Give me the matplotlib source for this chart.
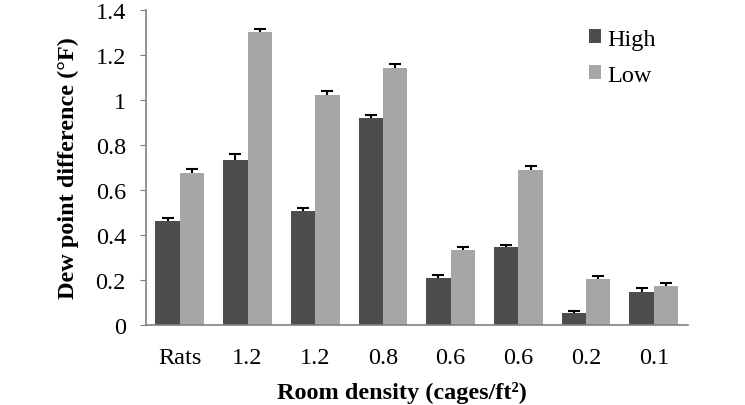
import matplotlib.pyplot as plt
import numpy as np

plt.rcParams['font.family'] = ['Liberation Serif', 'DejaVu Serif']

categories = ['Rats', '1.2', '1.2', '0.8', '0.6', '0.6', '0.2', '0.1']
high = [0.463, 0.735, 0.508, 0.922, 0.210, 0.345, 0.055, 0.148]
low = [0.677, 1.301, 1.021, 1.142, 0.333, 0.688, 0.204, 0.173]
high_err = [0.012, 0.024, 0.012, 0.010, 0.012, 0.012, 0.009, 0.016]
low_err = [0.015, 0.015, 0.020, 0.018, 0.014, 0.020, 0.014, 0.012]

fig = plt.figure(figsize=(7.45, 4.06), dpi=100)
ax = fig.add_axes([0.196, 0.197, 0.727, 0.776])

x = np.arange(len(categories))
w = 0.36
err_kw = dict(ecolor='black', elinewidth=1.5, capsize=4.5, capthick=1.5)
b1 = ax.bar(x - w / 2, high, w, color='#4d4d4d', label='High',
            yerr=[np.zeros(len(high)), high_err], error_kw=err_kw)
b2 = ax.bar(x + w / 2, low, w, color='#a6a6a6', label='Low',
            yerr=[np.zeros(len(low)), low_err], error_kw=err_kw)
# only the upper caps, like the original
for b in (b1, b2):
    b.errorbar.lines[1][0].set_visible(False)

ax.set_xlim(-0.5, 7.5)
ax.set_ylim(0, 1.4)
ax.set_yticks(np.arange(0, 1.41, 0.2))
ax.set_yticklabels(['0', '0.2', '0.4', '0.6', '0.8', '1', '1.2', '1.4'])
ax.set_xticks(x)
ax.set_xticklabels(categories)

for s in ['top', 'right']:
    ax.spines[s].set_visible(False)
ax.spines['left'].set_color('#808080')
ax.spines['bottom'].set_color('#808080')
ax.spines['left'].set_linewidth(1.2)
ax.spines['bottom'].set_linewidth(1.2)
ax.tick_params(axis='y', direction='out', length=4.5, color='#808080',
               labelsize=17.5, pad=10)
ax.tick_params(axis='x', length=0, labelsize=17.5, pad=16)

ax.set_ylabel('Dew point difference (°F)', fontsize=17.5, fontweight='bold',
              labelpad=12)
ax.set_xlabel('Room density (cages/ft²)', fontsize=17.5,
              fontweight='bold', labelpad=9)
ax.xaxis.label.set_x(0.472)

ax.legend(loc='upper right', bbox_to_anchor=(0.982, 1.01), frameon=False,
          fontsize=17.5, handlelength=0.5, handleheight=0.5,
          handletextpad=0.25, labelspacing=0.62)

fig.savefig('out.png', dpi=100)
